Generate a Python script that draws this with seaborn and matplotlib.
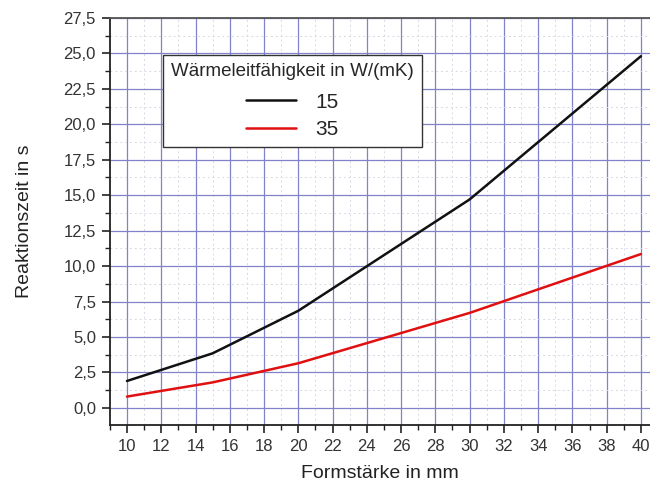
import matplotlib
matplotlib.use("Agg")
import matplotlib.pyplot as plt
import seaborn as sns
import pandas as pd
from matplotlib.ticker import MultipleLocator, FuncFormatter

# Data
formstaerke = [10, 15, 20, 30, 40]
zeit_15 = [1.9, 3.85, 6.85, 14.7, 24.8]
zeit_35 = [0.8, 1.8, 3.15, 6.7, 10.85]
series_names = ["15", "35"]
series_colors = ["#111111", "#e01010"]

df = pd.DataFrame({
    "Formstärke": formstaerke * 2,
    "Zeit": zeit_15 + zeit_35,
    "Wärmeleitfähigkeit": [series_names[0]] * len(formstaerke) + [series_names[1]] * len(formstaerke),
})

sns.set_theme(style="white")
plt.rcParams['font.family'] = ['Liberation Sans', 'DejaVu Sans']

fig = plt.figure(figsize=(6.5, 4.84), dpi=100)
ax = fig.add_axes([0.169, 0.122, 0.831, 0.841])

sns.lineplot(data=df, x="Formstärke", y="Zeit", hue="Wärmeleitfähigkeit",
             palette=dict(zip(series_names, series_colors)), linewidth=1.8, ax=ax,
             zorder=5)

ax.set_xlim(9, 40.53)
ax.set_ylim(-1.2, 27.5)

ax.xaxis.set_major_locator(MultipleLocator(2))
ax.xaxis.set_minor_locator(MultipleLocator(1))
ax.yaxis.set_major_locator(MultipleLocator(2.5))
ax.yaxis.set_minor_locator(MultipleLocator(1.25))
ax.yaxis.set_major_formatter(FuncFormatter(lambda v, p: f"{v:.1f}".replace(".", ",")))
ax.xaxis.set_major_formatter(FuncFormatter(lambda v, p: f"{int(round(v))}"))

ax.grid(which="major", color="#8282c8", linewidth=0.9, linestyle="-")
ax.grid(which="minor", color="#d8d8e4", linewidth=0.7, linestyle=(0, (2, 3)))
ax.set_axisbelow(True)

for s in ["left", "bottom", "top"]:
    ax.spines[s].set_visible(True)
    ax.spines[s].set_color("#222222")
    ax.spines[s].set_linewidth(1.3)
ax.spines["right"].set_visible(False)
ax.spines["top"].set_color("#555555")

ax.tick_params(which="major", direction="out", length=6, width=1.2, color="#222222",
               labelsize=12, labelcolor="#333333", bottom=True, left=True, top=False, right=False, pad=4)
ax.tick_params(which="minor", direction="out", length=3.5, width=1.0, color="#222222",
               bottom=True, left=True, top=False, right=False)

ax.set_xlabel("Formstärke in mm", fontsize=14, color="#222222", labelpad=8)
ax.set_ylabel("Reaktionszeit in s", fontsize=14, color="#222222", labelpad=22)

leg = ax.legend(title="Wärmeleitfähigkeit in W/(mK)", loc="upper left",
                bbox_to_anchor=(0.098, 0.909), borderaxespad=0, fontsize=15, title_fontsize=13.5,
                frameon=True, fancybox=False, edgecolor="#333333", framealpha=1,
                handlelength=2.4, borderpad=0.4, labelspacing=0.4, handletextpad=0.9)
leg.get_frame().set_linewidth(1.0)
leg._legend_box.align = "center"
leg._legend_box.sep = 9
for line in leg.get_lines():
    line.set_linewidth(1.8)

fig.savefig("out.png", dpi=100)
